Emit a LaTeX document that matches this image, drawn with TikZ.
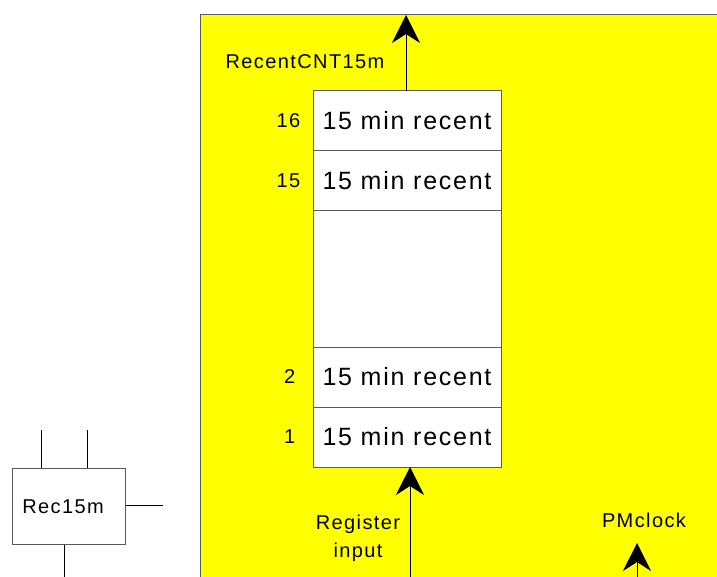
\documentclass[tikz,border=0pt]{standalone}
\usepackage{fontspec}
\setmainfont[LetterSpace=7]{Liberation Sans}
\usepackage{tikz}
\usetikzlibrary{arrows.meta,positioning}
\definecolor{pmyellow}{RGB}{255,255,0}
\definecolor{pmgray}{RGB}{90,90,90}
\tikzstyle{arrow} = [line width=1pt,-{Stealth[length=28pt,width=28pt,inset=9pt]}]
\tikzstyle{slotbox} = [rectangle, draw=pmgray, fill=white, line width=1pt, minimum width=188pt, minimum height=60pt, inner sep=0pt, outer sep=0pt, font=\fontsize{25}{28}\selectfont]
\tikzstyle{slotnum} = [font=\fontsize{20}{24}\selectfont]
\tikzstyle{lbl} = [font=\fontsize{20}{28}\selectfont, align=center]
\begin{document}
\begin{tikzpicture}[x=1pt, y=-1pt, line width=1pt]
\useasboundingbox (0,0) rectangle (717,577);
% register area
\fill[pmyellow] (200,15) rectangle (717,577);
\draw[pmgray] (200,577) -- (200,15) -- (717,15);

\node[slotbox, anchor=north west] (r16) at (313,91) {15 min recent};
\node[slotbox, below=0pt of r16] (r15) {15 min recent};
\node[slotbox, below=0pt of r15, minimum height=136pt] (gap) {};
\node[slotbox, below=0pt of gap] (r2) {15 min recent};
\node[slotbox, below=0pt of r2] (r1) {15 min recent};

\node[slotnum, left=9pt of r16] (n16) {16};
\node[slotnum, left=9pt of r15] (n15) {15};
\node[slotnum, left=14pt of r2] (n2) {2};
\node[slotnum, left=14pt of r1] (n1) {1};

\coordinate (outtop) at (406,15);
\coordinate (inbot) at (410,577);
\coordinate (clkbot) at (637,577);
\coordinate (clktop) at (637,543);
\draw[arrow] (r16.north -| outtop) -- (outtop);
\draw[arrow] (inbot) -- (r1.south -| inbot);
\draw[arrow] (clkbot) -- (clktop);

\node[lbl] (outname) at (305,62) {RecentCNT15m};
\node[lbl] (inname) at (358,538) {Register\\input};
\node[lbl] (clkname) at (644,520) {PMclock};

% block symbol
\node[draw=pmgray, fill=white, minimum width=113pt, minimum height=76pt, inner sep=0pt] (rec) at (68.5,506) {};
\node[lbl] (recname) at (63,507) {Rec15m};
\draw (rec.north -| 41,0) -- ++(0,-38);
\draw (rec.north -| 87,0) -- ++(0,-38);
\draw (rec.east |- 0,505) -- ++(37,0);
\draw (rec.south -| 64,0) -- ++(0,33);
\end{tikzpicture}
\end{document}
